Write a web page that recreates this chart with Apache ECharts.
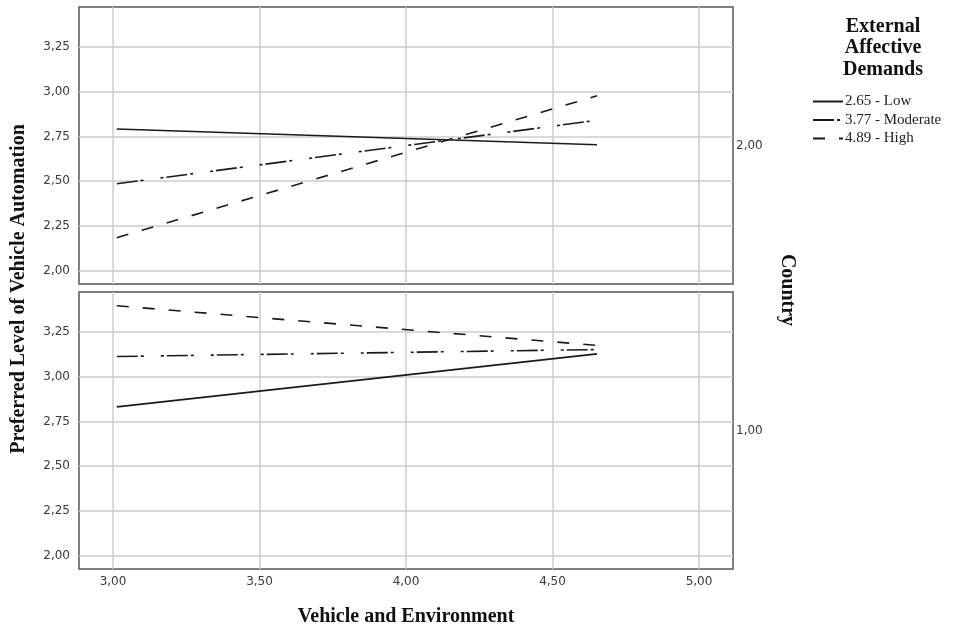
<!DOCTYPE html>
<html>
<head>
<meta charset="utf-8">
<script src="https://cdn.jsdelivr.net/npm/echarts@6/dist/echarts.min.js"></script>
<style>html,body{margin:0;padding:0;background:#fff}#c{width:958px;height:630px}</style>
</head>
<body>
<div id="c"></div>
<script>
// ---- data ----
var xValues = [3.013, 4.652];                 // Vehicle and Environment (line endpoints)
var groupNames = ['2.65 - Low', '3.77 - Moderate', '4.89 - High'];
var country2Low = [2.792, 2.704];
var country2Moderate = [2.486, 2.841];
var country2High = [2.184, 2.978];
var country1Low = [2.832, 3.129];
var country1Moderate = [3.114, 3.153];
var country1High = [3.398, 3.176];
var panelLabels = ['2,00', '1,00'];
var xRange = [2.884, 5.116];
var yRange = [1.925, 3.475];

var chart = echarts.init(document.getElementById('c'));
var serif = 'Liberation Serif';
var sans = 'DejaVu Sans';
function comma(v){ return v.toFixed(2).replace('.', ','); }
function pairs(ys){ return xValues.map(function(x,i){ return [x, ys[i]]; }); }

var lineTypes = ['solid', [21,3,3,17,3,3], [12,14]];
var panels = [[country2Low, country2Moderate, country2High],[country1Low, country1Moderate, country1High]];

var grids = [
  {left:79, top:7, width:654, height:277, show:true, borderColor:'#555', borderWidth:1.5, backgroundColor:'#fff'},
  {left:79, top:292, width:654, height:277, show:true, borderColor:'#555', borderWidth:1.5, backgroundColor:'#fff'}
];
var xAxes = [], yAxes = [], series = [];
[0,1].forEach(function(g){
  xAxes.push({
    type:'value', gridIndex:g, min:xRange[0], max:xRange[1], minInterval:0.5, maxInterval:0.5,
    axisLine:{show:false}, axisTick:{show:false},
    axisLabel:{show:g===1, formatter:comma, fontFamily:sans, fontSize:12, color:'#3a3a3a', margin:7, showMinLabel:false, showMaxLabel:false},
    splitLine:{show:true, showMinLine:false, showMaxLine:false, lineStyle:{color:'#cccccc', width:1.5}},
    name: g===1 ? 'Vehicle and Environment' : '', nameLocation:'middle', nameGap:38,
    nameTextStyle:{fontFamily:serif, fontWeight:'bold', fontSize:20, color:'#111'}
  });
  yAxes.push({
    type:'value', gridIndex:g, min:yRange[0], max:yRange[1], minInterval:0.25, maxInterval:0.25,
    axisLine:{show:false}, axisTick:{show:false},
    axisLabel:{formatter:comma, fontFamily:sans, fontSize:12, color:'#3a3a3a', margin:9, showMinLabel:false, showMaxLabel:false},
    splitLine:{show:true, showMinLine:false, showMaxLine:false, lineStyle:{color:'#cccccc', width:1.5}}
  });
  yAxes.push({
    type:'category', gridIndex:g, position:'right', data:[panelLabels[g]],
    axisLine:{show:false}, axisTick:{show:false}, splitLine:{show:false},
    axisLabel:{fontFamily:sans, fontSize:12, color:'#3a3a3a', margin:3}
  });
  panels[g].forEach(function(vals, i){
    series.push({
      type:'line', name:groupNames[i], xAxisIndex:g, yAxisIndex:g*2, data:pairs(vals),
      symbol:'none', silent:true, animation:false,
      lineStyle:{color:'#1a1a1a', width:1.6, type:lineTypes[i]},
      itemStyle:{color:'#1a1a1a'}
    });
  });
});

chart.setOption({
  animation:false,
  grid:grids, xAxis:xAxes, yAxis:yAxes, series:series,
  legend:{
    data:groupNames, orient:'vertical', left:807, top:89, itemWidth:30, itemHeight:16, itemGap:3.5,
    itemStyle:{opacity:0},
    textStyle:{fontFamily:serif, fontSize:15, color:'#222', padding:[0,0,0,-3]},
    selectedMode:false
  },
  graphic:[
    {type:'text', x:883, y:16, style:{text:'External\nAffective\nDemands', align:'center', font:'bold 20px "Liberation Serif"', lineHeight:21.5, fill:'#111'}},
    {type:'text', x:19, y:289, rotation:Math.PI/2, style:{text:'Preferred Level of Vehicle Automation', align:'center', verticalAlign:'middle', font:'bold 20px "Liberation Serif"', fill:'#111'}},
    {type:'text', x:787, y:290, rotation:-Math.PI/2, style:{text:'Country', align:'center', verticalAlign:'middle', font:'bold 20px "Liberation Serif"', fill:'#111'}}
  ]
});
</script>
</body>
</html>
